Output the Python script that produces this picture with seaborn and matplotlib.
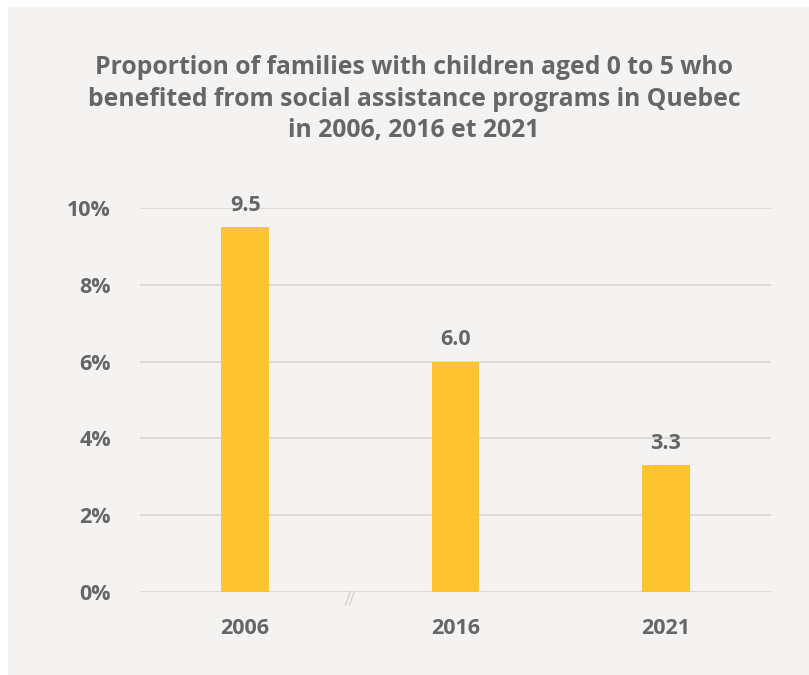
import matplotlib
matplotlib.use("Agg")
import matplotlib.pyplot as plt
import matplotlib.patches as mpatches
import seaborn as sns
import pandas as pd

years = ["2006", "2016", "2021"]
shares = [9.5, 6.0, 3.3]
y_ticks = [0, 2, 4, 6, 8, 10]
y_tick_labels = ["0%", "2%", "4%", "6%", "8%", "10%"]
title = ("Proportion of families with children aged 0 to 5 who\n"
         "benefited from social assistance programs in Quebec\n"
         "in 2006, 2016 et 2021")

BG = "#F4F3F1"
BAR = "#FEC42F"
TEXT = "#666666"
GRID = "#DEDBD4"

sns.set_theme(style="white")
plt.rcParams["font.family"] = ["Open Sans", "DejaVu Sans"]

W, H = 809, 675
fig = plt.figure(figsize=(W / 100, H / 100), dpi=100, facecolor="white")
fig.patches.append(mpatches.Rectangle((8 / W, 0), 1 - 8 / W, 1 - 7 / H,
                                      transform=fig.transFigure,
                                      facecolor=BG, edgecolor="none", zorder=-5))

ax = fig.add_axes([140 / W, 1 - 592 / H, (771 - 140) / W, (592 - 208) / H])
ax.set_facecolor(BG)
ax.patch.set_alpha(0)

df = pd.DataFrame({"year": years, "share": shares})
sns.barplot(data=df, x="year", y="share", color=BAR, width=0.228,
            saturation=1, linewidth=0, edgecolor="none", ax=ax, zorder=3)

ax.set_xlim(-0.5, 2.5)
ax.set_ylim(0, 10)
ax.set_yticks(y_ticks)
ax.set_yticklabels(y_tick_labels)
ax.yaxis.grid(True, color=GRID, linewidth=1.4, zorder=1)
ax.set_axisbelow(True)
for s in ax.spines.values():
    s.set_visible(False)
ax.tick_params(axis="both", length=0, labelsize=15.5, labelcolor=TEXT)
ax.tick_params(axis="y", pad=21)
ax.tick_params(axis="x", pad=19)
for lab in ax.get_xticklabels() + ax.get_yticklabels():
    lab.set_fontweight("bold")
ax.set_xlabel("")
ax.set_ylabel("")

for c in ax.containers:
    ax.bar_label(c, labels=[f"{v:.1f}" for v in shares], padding=8,
                 fontsize=15.5, fontweight="bold", color=TEXT)

# axis break mark under the baseline
for dx in (0.0, 0.019):
    ax.plot([0.5 - 0.024 + dx, 0.5 + dx], [-0.34, 0.0], color="#D8D5CF",
            linewidth=1.1, clip_on=False, zorder=2)

fig.text(414 / W, 1 - 99 / H, title, ha="center", va="center",
         fontsize=17.8, fontweight="bold", color=TEXT, linespacing=1.33)

fig.savefig("out.png", dpi=100, facecolor="white")
